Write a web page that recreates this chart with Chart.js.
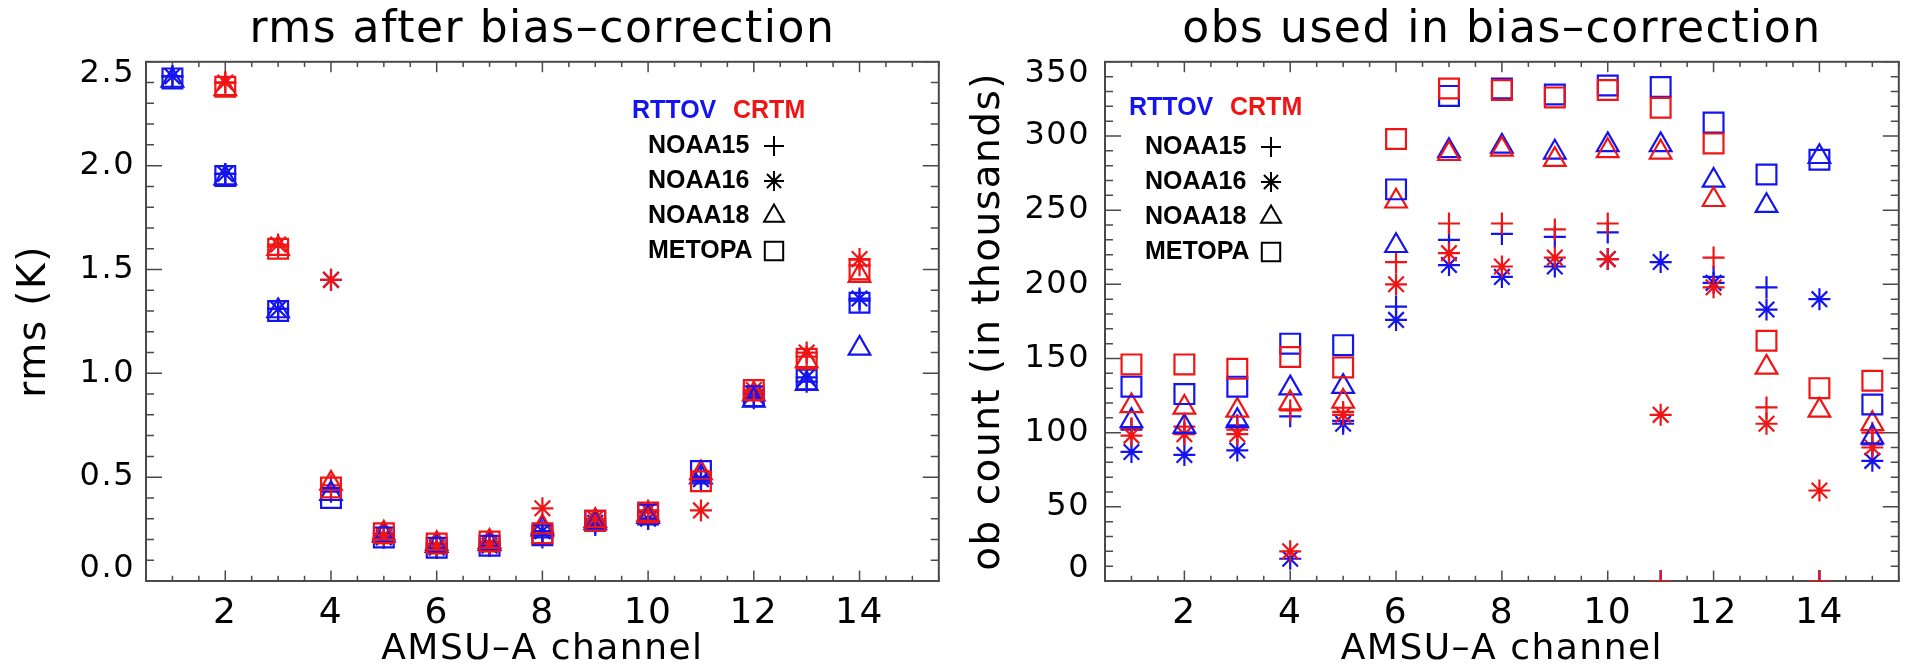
<!DOCTYPE html>
<html>
<head>
<meta charset="utf-8">
<script src="https://cdn.jsdelivr.net/npm/chart.js@4.4.1/dist/chart.umd.min.js"></script>
<style>
  body { margin: 0; background: #fff; overflow: hidden; }
  #left { position: absolute; left: 0; top: 0; }
  #right { position: absolute; left: 955px; top: 0; }
</style>
</head>
<body>
<canvas id="left" width="955" height="671"></canvas>
<canvas id="right" width="960" height="671"></canvas>
<script>
// AMSU-A channels and the labelled ticks
const channels = [1, 2, 3, 4, 5, 6, 7, 8, 9, 10, 11, 12, 13, 14, 15];
const channelLabels = [2, 4, 6, 8, 10, 12, 14];
const rmsLabels = [0, 0.5, 1, 1.5, 2, 2.5];
const countLabels = [0, 50, 100, 150, 200, 250, 300, 350];

// rms after bias-correction (K), null = nothing plotted
const rmsRttov15    = [2.43, 1.96, 1.31, 0.43, 0.21, 0.16, 0.17, 0.21, 0.27, 0.30, 0.50, 0.88, 0.96, 1.35, null];
const rmsRttov16    = [2.43, 1.96, 1.31, 1.45, 0.21, 0.16, 0.17, 0.24, 0.28, 0.30, 0.49, 0.90, 0.98, 1.36, null];
const rmsRttov18    = [2.41, 1.94, 1.30, 0.42, 0.22, 0.17, 0.18, 0.25, 0.28, 0.31, 0.50, 0.87, 0.95, 1.12, null];
const rmsRttovMetop = [2.42, 1.95, 1.30, 0.40, 0.21, 0.16, 0.17, 0.22, 0.29, 0.32, 0.53, 0.89, 0.97, 1.34, null];
const rmsCrtm15     = [null, 2.40, 1.61, 0.46, 0.23, 0.18, 0.19, 0.23, 0.29, 0.33, 0.48, 0.91, 1.08, 1.52, null];
const rmsCrtm16     = [null, 2.40, 1.62, 1.45, 0.22, 0.17, 0.18, 0.35, 0.30, 0.34, 0.34, 0.92, 1.10, 1.55, null];
const rmsCrtm18     = [null, 2.37, 1.60, 0.47, 0.23, 0.18, 0.19, 0.26, 0.29, 0.32, 0.52, 0.90, 1.06, 1.47, null];
const rmsCrtmMetop  = [null, 2.38, 1.60, 0.45, 0.23, 0.18, 0.19, 0.23, 0.29, 0.33, 0.48, 0.92, 1.07, 1.50, null];

// obs used in bias-correction (thousands)
const obsRttov15    = [102, 100, 105, 111, 108, 185, 230, 234, 232, 235, 0, 205, 198, 0, 92];
const obsRttov16    = [87, 85, 88, 15, 106, 176, 213, 205, 212, 217, 215, 201, 183, 190, 81];
const obsRttov18    = [108, 104, 108, 130, 131, 226, 290, 293, 289, 294, 294, 270, 253, 286, 97];
const obsRttovMetop = [131, 126, 131, 160, 159, 264, 327, 332, 328, 334, 333, 309, 274, 284, 119];
const obsCrtm15     = [103, 104, 102, 115, 114, 215, 241, 241, 237, 241, 0, 218, 117, 0, 100];
const obsCrtm16     = [98, 99, 99, 20, 112, 200, 221, 212, 218, 217, 112, 198, 106, 61, 90];
const obsCrtm18     = [118, 117, 115, 120, 121, 256, 288, 291, 284, 290, 289, 257, 144, 115, 106];
const obsCrtmMetop  = [146, 146, 143, 151, 144, 298, 332, 331, 326, 331, 319, 295, 162, 130, 135];

const blue = 'rgb(20,20,240)';
const red = 'rgb(240,20,20)';
const markers = [
    { name: 'NOAA15', style: 'cross', radius: 11, key: 10 },
    { name: 'NOAA16', style: 'star', radius: 11, key: 10 },
    { name: 'NOAA18', style: 'triangle', radius: 12.5, key: 11.5 },
    { name: 'METOPA', style: 'rect', radius: 14, key: 13 }
];

Chart.defaults.font.family = '"DejaVu Sans", sans-serif';
Chart.defaults.color = '#000';

function isOn(list, v) {
    return list.some(l => Math.abs(l - v) < 1e-6);
}

function points(values) {
    return channels.map((c, i) => ({ x: c, y: values[i] })).filter(p => p.y !== null);
}

function buildSets(rttov, crtm) {
    let sets = [];
    markers.forEach((m, i) => {
        [[rttov[i], blue, 'RTTOV'], [crtm[i], red, 'CRTM']].forEach(([vals, col, model]) => {
            sets.push({
                label: model + ' ' + m.name,
                data: points(vals),
                pointStyle: m.style,
                pointRadius: m.radius,
                pointBorderColor: col,
                pointBackgroundColor: 'rgba(0,0,0,0)',
                pointBorderWidth: 2.2,
                clip: 0
            });
        });
    });
    return sets.reverse(); // first dataset is painted last
}

// wider letters, like the original
const spacing = {
    id: 'spacing',
    beforeDraw(chart) { chart.ctx.letterSpacing = '1.5px'; }
};

// box round the plot with inward ticks on all four sides
function frameTicks(xMajors, yMajors) {
    return {
        id: 'frameTicks',
        beforeDatasetsDraw(chart) {
            const { ctx, chartArea: a, scales: { x, y } } = chart;
            ctx.save();
            ctx.strokeStyle = '#4a4a4a';
            ctx.lineWidth = 1.5;
            ctx.beginPath();
            x.ticks.forEach(t => {
                const px = x.getPixelForValue(t.value);
                const len = isOn(xMajors, t.value) ? 10.5 : 5.2;
                ctx.moveTo(px, a.bottom); ctx.lineTo(px, a.bottom - len);
                ctx.moveTo(px, a.top); ctx.lineTo(px, a.top + len);
            });
            y.ticks.forEach(t => {
                const py = y.getPixelForValue(t.value);
                const len = isOn(yMajors, t.value) ? 16 : 8;
                ctx.moveTo(a.left, py); ctx.lineTo(a.left + len, py);
                ctx.moveTo(a.right, py); ctx.lineTo(a.right - len, py);
            });
            ctx.stroke();
            ctx.lineWidth = 2;
            ctx.strokeRect(a.left, a.top, a.right - a.left, a.bottom - a.top);
            ctx.restore();
        }
    };
}

// RTTOV / CRTM key with the satellite symbols
function satKey(textX, headY, rowY) {
    return {
        id: 'satKey',
        afterDatasetsDraw(chart) {
            const ctx = chart.ctx;
            const x0 = chart.chartArea.left + textX;
            ctx.save();
            ctx.letterSpacing = '0px';
            ctx.font = 'bold 25px "Liberation Sans", Arial, sans-serif';
            ctx.textBaseline = 'middle';
            ctx.textAlign = 'left';
            ctx.fillStyle = blue;
            ctx.fillText('RTTOV', x0 - 16, headY);
            ctx.fillStyle = red;
            ctx.fillText('CRTM', x0 + 85, headY);
            markers.forEach((m, i) => {
                const y = rowY + i * 35;
                ctx.fillStyle = '#000';
                ctx.fillText(m.name, x0, y);
                ctx.strokeStyle = '#000';
                ctx.fillStyle = 'rgba(0,0,0,0)';
                ctx.lineWidth = 2;
                Chart.helpers.drawPoint(ctx, { pointStyle: m.style, rotation: 0, radius: m.key, borderWidth: 2 }, x0 + 126, y);
            });
            ctx.restore();
        }
    };
}

function makeChart(id, o) {
    const atEdge = v => Math.abs(v - o.yMin) < 1e-6 || Math.abs(v - o.yMax) < 1e-6;
    return new Chart(document.getElementById(id), {
        type: 'scatter',
        data: { datasets: o.datasets },
        options: {
            responsive: false,
            animation: false,
            events: [],
            layout: { padding: { left: 0, right: 3, top: 0, bottom: 0 } },
            plugins: {
                legend: { display: false },
                tooltip: { enabled: false },
                title: {
                    display: true, text: o.title, fullSize: false, color: '#000',
                    font: { size: 44, weight: 'normal' }, padding: { top: 4, bottom: 5 }
                }
            },
            scales: {
                x: {
                    type: 'linear', min: 0.5, max: 15.5,
                    grid: { display: false, drawTicks: false },
                    border: { display: false },
                    ticks: {
                        stepSize: 0.5, autoSkip: false, maxRotation: 0, padding: 11,
                        font: { size: 36 },
                        callback: v => isOn(channelLabels, v) ? String(Math.round(v)) : ''
                    },
                    title: { display: true, text: 'AMSU–A channel', font: { size: 36 }, padding: { top: 0, bottom: 0 } },
                    afterFit: s => { s.height = 90; }
                },
                y: {
                    type: 'linear', min: o.yMin, max: o.yMax,
                    grid: { display: false, drawTicks: false },
                    border: { display: false },
                    ticks: {
                        stepSize: o.yStep, autoSkip: false, padding: o.yPad,
                        // end labels sit a little inside the frame, as in the original
                        font: c => ({ size: 32, lineHeight: (c.tick && atEdge(c.tick.value)) ? 0.75 : 1.2 }),
                        callback: v => {
                            if (!isOn(o.yLabels, v)) return '';
                            const s = o.fmt(v);
                            if (Math.abs(v - o.yMax) < 1e-6) return ['', s];
                            if (Math.abs(v - o.yMin) < 1e-6) return [s, ''];
                            return s;
                        }
                    },
                    title: { display: true, text: o.yTitle, font: { size: 39 }, padding: { top: o.titlePad, bottom: 0 } },
                    afterFit: s => { s.width = o.yWidth; }
                }
            }
        },
        plugins: [spacing, frameTicks(channelLabels, o.yLabels), satKey(o.keyX, o.keyHead, o.keyRow)]
    });
}

makeChart('left', {
    title: 'rms after bias–correction',
    datasets: buildSets([rmsRttov15, rmsRttov16, rmsRttov18, rmsRttovMetop],
                        [rmsCrtm15, rmsCrtm16, rmsCrtm18, rmsCrtmMetop]),
    yMin: 0, yMax: 2.5, yStep: 0.1, yLabels: rmsLabels, fmt: v => v.toFixed(1),
    yTitle: 'rms (K)', yPad: 11, titlePad: 11, yWidth: 146,
    keyX: 502, keyHead: 111.5, keyRow: 146
});

makeChart('right', {
    title: 'obs used in bias–correction',
    datasets: buildSets([obsRttov15, obsRttov16, obsRttov18, obsRttovMetop],
                        [obsCrtm15, obsCrtm16, obsCrtm18, obsCrtmMetop]),
    yMin: 0, yMax: 350, yStep: 10, yLabels: countLabels, fmt: v => String(Math.round(v)),
    yTitle: 'ob count (in thousands)', yPad: 15, titlePad: 10, yWidth: 150,
    keyX: 40, keyHead: 108, keyRow: 147
});
</script>
</body>
</html>
